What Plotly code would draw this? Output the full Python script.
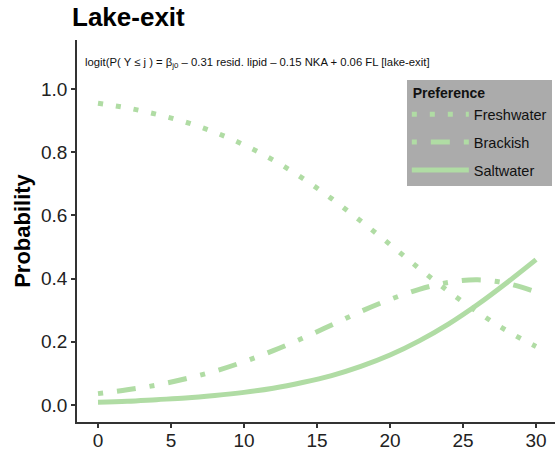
import plotly.graph_objects as go

# Predicted probability of each salinity preference along the x covariate
x_vals = [0, 2, 4, 6, 8, 10, 12, 14, 16, 18, 20, 22, 24, 26, 28, 30]
freshwater = [0.955, 0.940, 0.920, 0.895, 0.863, 0.823, 0.775, 0.718, 0.653, 0.582,
              0.508, 0.432, 0.360, 0.294, 0.235, 0.185]
brackish = [0.036, 0.048, 0.063, 0.083, 0.107, 0.137, 0.172, 0.211, 0.253, 0.296,
            0.334, 0.366, 0.388, 0.396, 0.385, 0.358]
saltwater = [0.009, 0.012, 0.017, 0.022, 0.030, 0.040, 0.053, 0.071, 0.093, 0.122,
             0.158, 0.203, 0.256, 0.318, 0.387, 0.460]

series_names = ["Freshwater", "Brackish", "Saltwater"]
series_values = [freshwater, brackish, saltwater]
series_dash = ["5px,13px", "5px,14px,19px,14px", "solid"]

x_ticks = [0, 5, 10, 15, 20, 25, 30]
y_ticks = [0.0, 0.2, 0.4, 0.6, 0.8, 1.0]
y_tick_text = ["0.0", "0.2", "0.4", "0.6", "0.8", "1.0"]

line_color = "#b0dca4"
font_family = "Liberation Sans, Arial, sans-serif"

fig = go.Figure()
for name, vals, dash in zip(series_names, series_values, series_dash):
    fig.add_trace(go.Scatter(
        x=x_vals, y=vals, name=name, mode="lines",
        line=dict(color=line_color, width=5, dash=dash, shape="spline"),
        legendgroup=name,
    ))

fig.add_annotation(
    x=-1.03, y=1.082, xref="x", yref="y", xanchor="left", yanchor="middle",
    text="logit(P( Y \u2264 j ) = \u03b2<sub>j0</sub> \u2013 0.31 resid. lipid \u2013 0.15 NKA + 0.06 FL [lake-exit]",
    showarrow=False, font=dict(family=font_family, size=11.3, color="#111111"),
)

fig.update_layout(
    width=555, height=454,
    margin=dict(l=77, r=0, t=40, b=32),
    paper_bgcolor="white", plot_bgcolor="white",
    font=dict(family=font_family, color="#222222"),
    title=dict(text="<b>Lake-exit</b>", x=72 / 555, xanchor="left",
               y=1 - 17 / 454, yanchor="middle",
               font=dict(family=font_family, size=26, color="#000000")),
    showlegend=True,
    legend=dict(
        x=0.690, y=0.895, xanchor="left", yanchor="top",
        bgcolor="#ababab", borderwidth=0,
        title=dict(text="<b> Preference</b>", font=dict(size=14, color="#111111")),
        font=dict(size=14.5, color="#111111"),
        tracegroupgap=6, itemwidth=57,
    ),
    xaxis=dict(
        range=[-1.438, 31.30], tickvals=x_ticks, showgrid=False, zeroline=False,
        showline=True, linecolor="#333333", linewidth=1.5,
        ticks="outside", ticklen=4, tickcolor="#333333", tickwidth=1.5,
        tickfont=dict(size=19, color="#222222"), ticklabelstandoff=-4,
    ),
    yaxis=dict(
        range=[-0.0538, 1.155], tickvals=y_ticks, ticktext=y_tick_text,
        showgrid=False, zeroline=False,
        showline=True, linecolor="#333333", linewidth=1.5,
        ticks="outside", ticklen=4, tickcolor="#333333", tickwidth=1.5,
        tickfont=dict(size=19, color="#222222"),
        title=dict(text="<b>Probability</b>", font=dict(size=22, color="#000000"), standoff=4),
    ),
)

fig.write_html("out.html")
